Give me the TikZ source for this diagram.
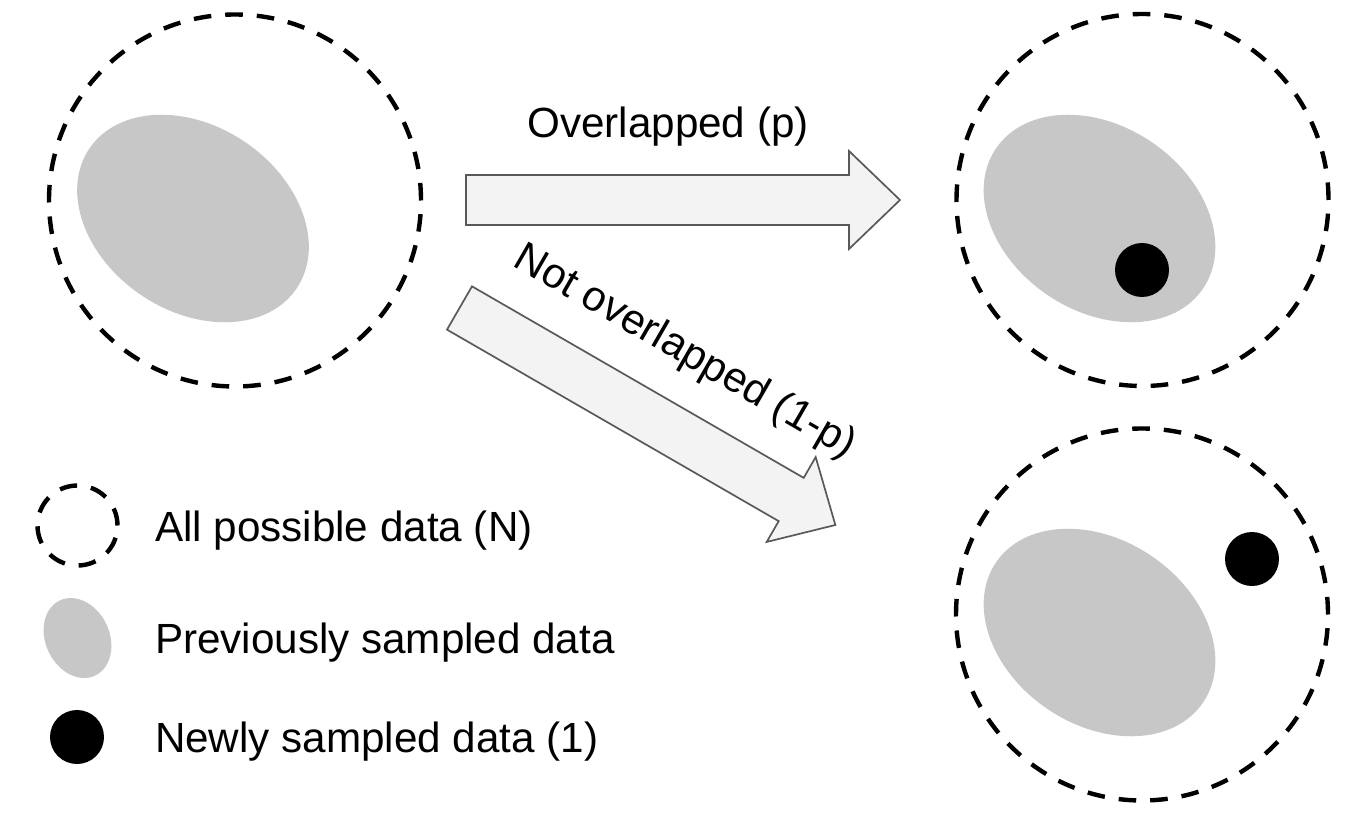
\documentclass[tikz,border=0pt]{standalone}
\usepackage{fontspec}
\setmainfont{Liberation Sans}
\usetikzlibrary{shapes.geometric}
\definecolor{prevgray}{HTML}{C7C7C7}
\definecolor{arrowfill}{HTML}{F3F3F3}
\definecolor{arrowline}{HTML}{595959}
\tikzset{
  pool/.style={circle, draw=black, line width=2.2pt, dash pattern=on 8.8pt off 7pt,
               minimum size=186pt, inner sep=0pt, outer sep=0pt},
  poolsmall/.style={pool, minimum size=40pt},
  prev/.style={ellipse, fill=prevgray, draw=none, minimum width=125pt,
               minimum height=92.5pt, inner sep=0pt, rotate=-34},
  prevsmall/.style={prev, minimum width=41.5pt, minimum height=32pt, rotate=-31},
  newpt/.style={circle, fill=black, draw=none, minimum size=27pt, inner sep=0pt},
  txt/.style={font=\fontsize{21.1}{25}\selectfont, inner sep=0pt, outer sep=0pt},
  blockarrow/.pic={
    \draw[fill=arrowfill, draw=arrowline, line width=0.85pt, line join=miter]
      (0,-25) -- (383,-25) -- (383,-49) -- (434,0) -- (383,49) -- (383,25)
      -- (0,25) -- cycle;
  }
}
\begin{document}
\begin{tikzpicture}[x=0.5pt, y=-0.5pt]
  \useasboundingbox (0,0) rectangle (1370,834);

  % starting state
  \node[pool] (start) at (235,200.5) {};
  \node[prev] (startprev) at (193,218.5) {};

  % outcome: the new sample falls inside the previous sample
  \node[pool] (overlap) at (1142.5,200) {};
  \node[prev] (overlapprev) at (1099.5,218.5) {};
  \node[newpt] (overlapnew) at (1142,270) {};

  % outcome: the new sample falls outside the previous sample
  \node[pool] (disjoint) at (1142,614.5) {};
  \node[prev] (disjointprev) at (1099.5,632.5) {};
  \node[newpt] (disjointnew) at (1252,559) {};

  % transitions
  \pic (tooverlap) at (466,200) {blockarrow};
  \pic[rotate=-30] (todisjoint) at (459.5,308) {blockarrow};
  \node[txt, anchor=base] (ptext) at (668,138) {Overlapped (p)};
  \node[txt, anchor=base, rotate=-30] (qtext) at (679.5,362) {Not overlapped (1-p)};

  % legend
  \node[poolsmall] (keypool) at (77.5,525.5) {};
  \node[prevsmall] (keyprev) at (77.5,638) {};
  \node[newpt] (keynew) at (77,737) {};
  \node[txt, anchor=base west] (keypooltext) at (155,541.7) {All possible data (N)};
  \node[txt, anchor=base west] (keyprevtext) at (155,653) {Previously sampled data};
  \node[txt, anchor=base west] (keynewtext) at (155,752.7) {Newly sampled data (1)};
\end{tikzpicture}
\end{document}
